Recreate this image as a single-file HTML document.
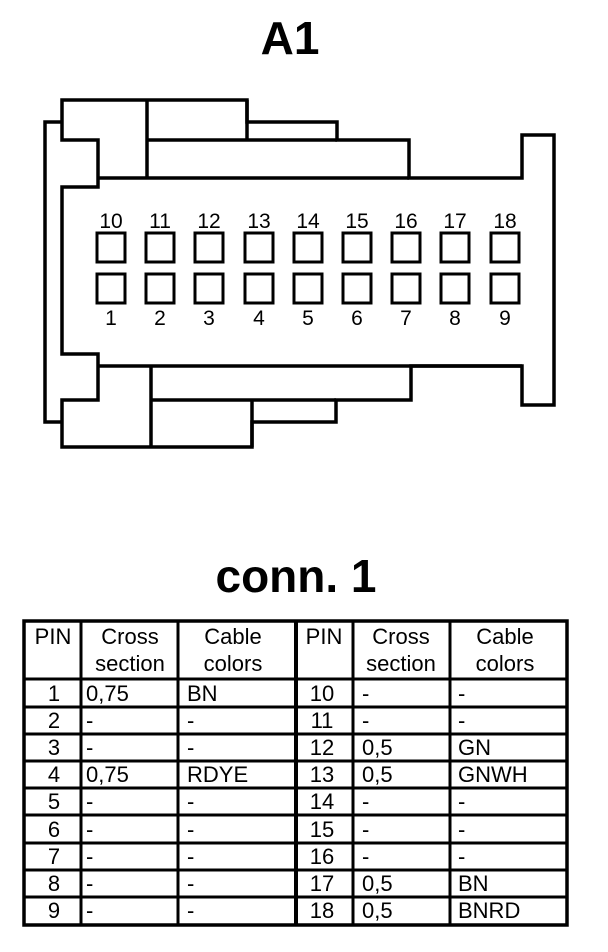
<!DOCTYPE html>
<html><head><meta charset="utf-8"><style>
html,body{margin:0;padding:0;background:#fff;}
svg{display:block;}
text{font-family:"Liberation Sans",Arial,sans-serif;fill:#000;}
</style></head><body>
<svg width="608" height="952" viewBox="0 0 608 952" xmlns="http://www.w3.org/2000/svg">
<text x="290" y="54" font-size="46" font-weight="bold" text-anchor="middle">A1</text>
<g fill="none" stroke="#000" stroke-width="3.5" stroke-linejoin="miter">
<polygon points="62,122 62,100 247,100 247,122 337,122 337,140 409,140 409,178 522,178 522,135 554,135 554,405 522,405 522,366 411,366 411,400 336,400 336,422 252,422 252,447 62,447 62,400 98,400 98,354 62,354 62,187 98,187 98,140 62,140"/>
<polyline points="62,122 45,122 45,422 62,422"/>
<line x1="98" y1="178" x2="409" y2="178"/>
<line x1="147" y1="100" x2="147" y2="178"/>
<line x1="147" y1="140" x2="337" y2="140"/>
<line x1="247" y1="100" x2="247" y2="140"/>
<line x1="98" y1="366" x2="522" y2="366"/>
<line x1="151" y1="366" x2="151" y2="447"/>
<line x1="151" y1="400" x2="336" y2="400"/>
<line x1="252" y1="400" x2="252" y2="447"/>
<g stroke-width="3">
<rect x="97" y="233" width="28" height="29"/><rect x="97" y="274" width="28" height="29"/>
<rect x="146" y="233" width="28" height="29"/><rect x="146" y="274" width="28" height="29"/>
<rect x="195" y="233" width="28" height="29"/><rect x="195" y="274" width="28" height="29"/>
<rect x="245" y="233" width="28" height="29"/><rect x="245" y="274" width="28" height="29"/>
<rect x="294" y="233" width="28" height="29"/><rect x="294" y="274" width="28" height="29"/>
<rect x="343" y="233" width="28" height="29"/><rect x="343" y="274" width="28" height="29"/>
<rect x="392" y="233" width="28" height="29"/><rect x="392" y="274" width="28" height="29"/>
<rect x="441" y="233" width="28" height="29"/><rect x="441" y="274" width="28" height="29"/>
<rect x="491" y="233" width="28" height="29"/><rect x="491" y="274" width="28" height="29"/>
</g>
</g>
<g font-size="21" text-anchor="middle">
<text x="111" y="228">10</text><text x="160" y="228">11</text><text x="209" y="228">12</text><text x="259" y="228">13</text><text x="308" y="228">14</text><text x="357" y="228">15</text><text x="406" y="228">16</text><text x="455" y="228">17</text><text x="505" y="228">18</text>
<text x="111" y="325">1</text><text x="160" y="325">2</text><text x="209" y="325">3</text><text x="259" y="325">4</text><text x="308" y="325">5</text><text x="357" y="325">6</text><text x="406" y="325">7</text><text x="455" y="325">8</text><text x="505" y="325">9</text>
</g>
<text x="296" y="592" font-size="46" font-weight="bold" text-anchor="middle">conn. 1</text>
<g stroke="#000" fill="none">
<rect x="24" y="621" width="543" height="304" stroke-width="3.5"/>
<g stroke-width="3">
<line x1="81" y1="621" x2="81" y2="925"/>
<line x1="178" y1="621" x2="178" y2="925"/>
<line x1="353" y1="621" x2="353" y2="925"/>
<line x1="450" y1="621" x2="450" y2="925"/>
<line x1="24" y1="679" x2="567" y2="679"/>
<line x1="24" y1="707" x2="567" y2="707"/>
<line x1="24" y1="734" x2="567" y2="734"/>
<line x1="24" y1="761" x2="567" y2="761"/>
<line x1="24" y1="788" x2="567" y2="788"/>
<line x1="24" y1="815" x2="567" y2="815"/>
<line x1="24" y1="843" x2="567" y2="843"/>
<line x1="24" y1="870" x2="567" y2="870"/>
<line x1="24" y1="897" x2="567" y2="897"/>
</g>
<line x1="296" y1="621" x2="296" y2="925" stroke-width="4"/>
</g>
<g font-size="22">
<text x="53" y="644" text-anchor="middle">PIN</text>
<text x="130" y="644" text-anchor="middle">Cross</text><text x="130" y="671" text-anchor="middle">section</text>
<text x="233" y="644" text-anchor="middle">Cable</text><text x="233" y="671" text-anchor="middle">colors</text>
<text x="324" y="644" text-anchor="middle">PIN</text>
<text x="401" y="644" text-anchor="middle">Cross</text><text x="401" y="671" text-anchor="middle">section</text>
<text x="505" y="644" text-anchor="middle">Cable</text><text x="505" y="671" text-anchor="middle">colors</text>
</g>
<g font-size="22">
<g text-anchor="middle">
<text x="54" y="701">1</text><text x="54" y="728">2</text><text x="54" y="755">3</text><text x="54" y="782">4</text><text x="54" y="809">5</text><text x="54" y="837">6</text><text x="54" y="864">7</text><text x="54" y="891">8</text><text x="54" y="918">9</text>
<text x="322" y="701">10</text><text x="322" y="728">11</text><text x="322" y="755">12</text><text x="322" y="782">13</text><text x="322" y="809">14</text><text x="322" y="837">15</text><text x="322" y="864">16</text><text x="322" y="891">17</text><text x="322" y="918">18</text>
</g>
<text x="86" y="701">0,75</text><text x="86" y="728">-</text><text x="86" y="755">-</text><text x="86" y="782">0,75</text><text x="86" y="809">-</text><text x="86" y="837">-</text><text x="86" y="864">-</text><text x="86" y="891">-</text><text x="86" y="918">-</text>
<text x="187" y="701">BN</text><text x="187" y="728">-</text><text x="187" y="755">-</text><text x="187" y="782">RDYE</text><text x="187" y="809">-</text><text x="187" y="837">-</text><text x="187" y="864">-</text><text x="187" y="891">-</text><text x="187" y="918">-</text>
<text x="362" y="701">-</text><text x="362" y="728">-</text><text x="362" y="755">0,5</text><text x="362" y="782">0,5</text><text x="362" y="809">-</text><text x="362" y="837">-</text><text x="362" y="864">-</text><text x="362" y="891">0,5</text><text x="362" y="918">0,5</text>
<text x="458" y="701">-</text><text x="458" y="728">-</text><text x="458" y="755">GN</text><text x="458" y="782">GNWH</text><text x="458" y="809">-</text><text x="458" y="837">-</text><text x="458" y="864">-</text><text x="458" y="891">BN</text><text x="458" y="918">BNRD</text>
</g>
</svg>
</body></html>
